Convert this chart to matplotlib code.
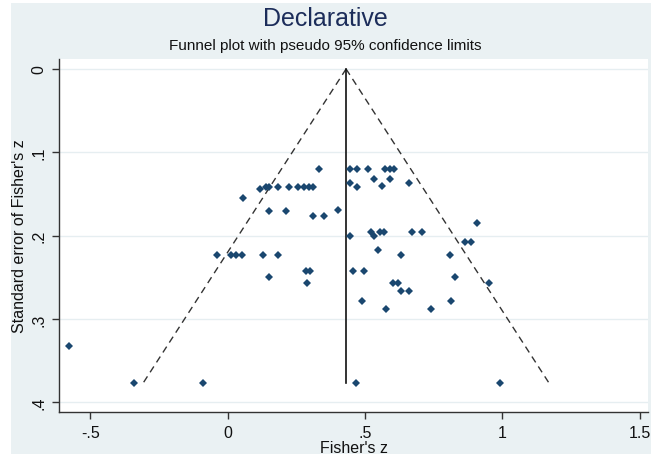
import matplotlib
matplotlib.use("Agg")
import matplotlib.pyplot as plt
from matplotlib.patches import Rectangle
import numpy as np

plt.rcParams['font.family'] = ['Liberation Sans', 'DejaVu Sans']

# Data: Fisher's z (effect) and its standard error
fisher_z = [-0.577, -0.341, -0.089, 0.466, 0.991,
            0.057, 0.118, 0.139, 0.151, 0.184, 0.223, 0.256, 0.277, 0.296, 0.309,
            0.333, 0.151, 0.212, 0.309, 0.352, 0.400,
            0.445, 0.470, 0.512, 0.573, 0.590, 0.604,
            0.445, 0.470, 0.534, 0.563, 0.591, 0.660, 0.906,
            0.445, 0.522, 0.534, 0.554, 0.569, 0.672, 0.708,
            0.865, 0.887, 0.546, 0.631, 0.809,
            -0.038, 0.011, 0.030, 0.051, 0.130, 0.184,
            0.150, 0.285, 0.300, 0.288, 0.457, 0.497, 0.829,
            0.603, 0.619, 0.631, 0.660, 0.951,
            0.490, 0.813, 0.575, 0.740]
se_z = [0.332, 0.377, 0.377, 0.377, 0.377,
        0.155, 0.144, 0.142, 0.142, 0.142, 0.142, 0.142, 0.142, 0.142, 0.142,
        0.120, 0.171, 0.171, 0.176, 0.176, 0.169,
        0.120, 0.120, 0.120, 0.120, 0.120, 0.120,
        0.137, 0.142, 0.132, 0.140, 0.132, 0.137, 0.185,
        0.200, 0.196, 0.200, 0.196, 0.196, 0.196, 0.196,
        0.208, 0.208, 0.217, 0.223, 0.223,
        0.223, 0.223, 0.223, 0.223, 0.223, 0.223,
        0.250, 0.243, 0.243, 0.257, 0.243, 0.243, 0.250,
        0.257, 0.257, 0.267, 0.267, 0.257,
        0.278, 0.278, 0.288, 0.288]

pooled = 0.431
se_max = 0.377

x_ticks = [-0.5, 0, 0.5, 1, 1.5]
x_tick_labels = ["-.5", "0", ".5", "1", "1.5"]
y_ticks = [0, 0.1, 0.2, 0.3, 0.4]
y_tick_labels = ["0", ".1", ".2", ".3", ".4"]

W, H = 651, 460
bg = "#eaf1f3"
fig = plt.figure(figsize=(W / 100, H / 100), dpi=100, facecolor="white")
fig.patches.append(Rectangle((11 / W, 5 / H), 1 - 11 / W, 1 - 9 / H,
                             transform=fig.transFigure, facecolor=bg,
                             edgecolor="none", zorder=-10))

ax = fig.add_axes([59 / W, 46.7 / H, (648 - 59) / W, (400 - 46.7) / H])
ax.set_facecolor("white")

ax.set_xlim(-0.614, 1.530)
ax.set_ylim(0.412, -0.012)

for yt in y_ticks:
    ax.axhline(yt, color="#e6eef1", lw=1.0, zorder=0)

# pseudo 95% confidence limits
se_line = np.array([0, se_max])
ax.plot(pooled - 1.96 * se_line, se_line, color="#333333", lw=1.0,
        dashes=(5, 3.5), zorder=2)
ax.plot(pooled + 1.96 * se_line, se_line, color="#333333", lw=1.0,
        dashes=(5, 3.5), zorder=2)
ax.plot([pooled, pooled], [0, se_max], color="#111111", lw=1.2, zorder=2)

ax.plot(fisher_z, se_z, linestyle="none", marker="D", ms=4.1,
        mew=0, color="#1a476f", zorder=3)

for s in ["top", "right"]:
    ax.spines[s].set_visible(False)
for s in ["left", "bottom"]:
    ax.spines[s].set_color("#333333")
    ax.spines[s].set_linewidth(1.0)

ax.set_xticks(x_ticks)
ax.set_xticklabels(x_tick_labels)
ax.set_yticks(y_ticks)
ax.set_yticklabels(y_tick_labels, rotation=90, va="center")
ax.tick_params(direction="out", length=5, width=1, color="#333333",
               labelsize=11.5, labelcolor="#111111", pad=4)

ax.set_xlabel("Fisher's z", fontsize=11.5, labelpad=0, color="#111111")
ax.set_ylabel("Standard error of Fisher's z", fontsize=11.5, labelpad=3,
              color="#111111")

fig.text(0.5, 1 - 19 / H, "Declarative", ha="center", va="center",
         fontsize=18, color="#1c2d5a")
fig.text(0.5, 1 - 46 / H, "Funnel plot with pseudo 95% confidence limits",
         ha="center", va="center", fontsize=11, color="#111111")

fig.savefig("out.png", dpi=100, facecolor=fig.get_facecolor())
